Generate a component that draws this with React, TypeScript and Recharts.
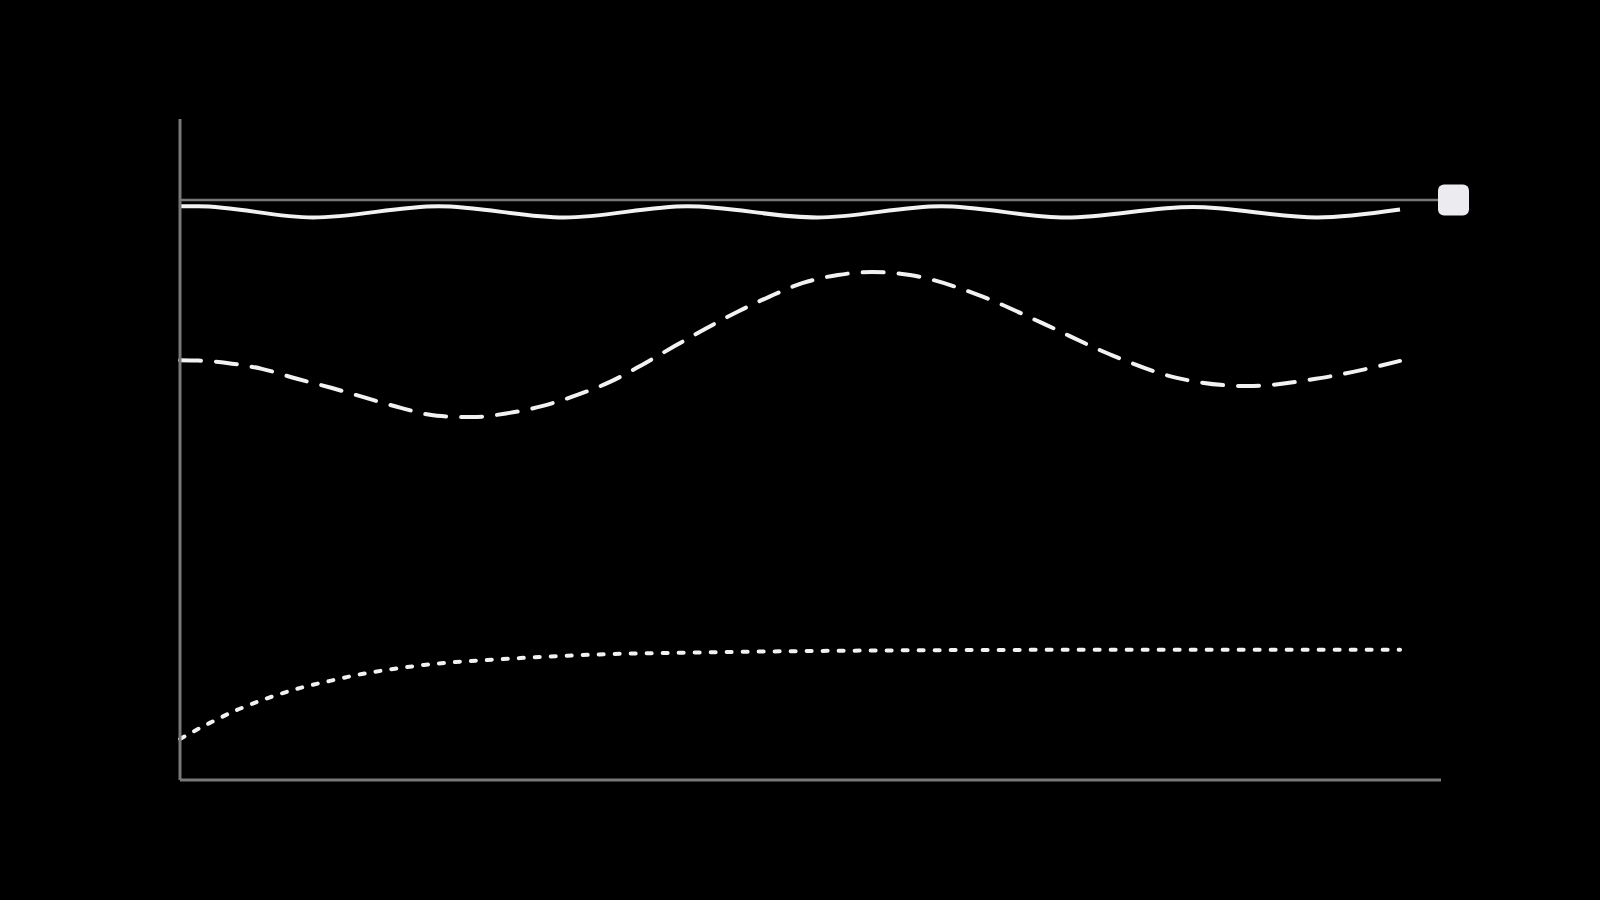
import React from "react";
import { LineChart, Line, XAxis, YAxis, ReferenceLine } from "recharts";

// x positions are in a 0..100 range across the span of the series
const X_MAX = 103.36;
const Y_MIN = 0;
const Y_MAX = 100;
const REF_VALUE = 87.75;

const solidX = [0, 1.5, 10.9, 21.2, 31.5, 41.6, 52.2, 62.4, 72.6, 83.0, 93.2, 100];
const solidY = [86.8, 86.8, 85.1, 86.8, 85.1, 86.8, 85.1, 86.8, 85.1, 86.7, 85.1, 86.3];

const dashedX = [
  0, 1.5, 3.85, 6.72, 9.59, 12.46, 15.25, 18.11, 21.07, 23.93, 26.89, 29.75, 32.62,
  35.33, 37.87, 40.41, 43.11, 45.66, 48.28, 51.07, 53.93, 56.72, 59.84, 65.41,
  70.82, 76.15, 81.8, 87.54, 93.44, 100,
];
const dashedY = [
  63.5, 63.45, 63.1, 62.2, 60.7, 59.3, 57.8, 56.3, 55.1, 54.9, 55.5, 56.6, 58.3, 60.3,
  62.8, 65.5, 68.3, 70.8, 73.1, 75.2, 76.4, 76.85, 76.4, 73.4, 69.0, 64.45,
  60.8, 59.6, 60.8, 63.4,
];

const dottedX = [
  0, 2.4, 4.8, 7.2, 9.8, 12.3, 14.8, 17.5, 20.0, 22.6, 25.2, 27.9, 34.4, 42.6,
  50.8, 63.1, 75.4, 87.7, 100,
];
const dottedY = [
  6.2, 8.6, 10.7, 12.4, 13.9, 15.0, 16.0, 16.8, 17.4, 17.85, 18.15, 18.45, 19.0,
  19.3, 19.5, 19.65, 19.7, 19.7, 19.7,
];

const toRows = (xs: number[], ys: number[]) => xs.map((x, i) => ({ x, y: ys[i] }));

const solidData = toRows(solidX, solidY);
const dashedData = toRows(dashedX, dashedY);
const dottedData = toRows(dottedX, dottedY);

const AXIS = "#787878";
const LINE = "#f2f2f2";

const SquareLabel = (props: any) => {
  const vb = props.viewBox || {};
  const size = 31;
  const cx = (vb.x ?? 0) + (vb.width ?? 0) + 12.5;
  const cy = vb.y ?? 0;
  return (
    <rect
      x={cx - size / 2}
      y={cy - size / 2}
      width={size}
      height={size}
      rx={6}
      ry={6}
      fill="#ececf0"
    />
  );
};

export default function App() {
  return (
    <div
      style={{
        position: "fixed",
        left: 0,
        top: 0,
        width: 1600,
        height: 900,
        background: "#000",
      }}
    >
      <LineChart
        width={1600}
        height={900}
        margin={{ top: 119, right: 159, bottom: 119, left: 179 }}
      >
        <XAxis
          type="number"
          dataKey="x"
          domain={[0, X_MAX]}
          tick={false}
          tickLine={false}
          height={1}
          axisLine={{ stroke: AXIS, strokeWidth: 3 }}
        />
        <YAxis
          type="number"
          domain={[Y_MIN, Y_MAX]}
          tick={false}
          tickLine={false}
          width={1}
          axisLine={{ stroke: AXIS, strokeWidth: 3 }}
        />
        <ReferenceLine
          y={REF_VALUE}
          stroke={AXIS}
          strokeWidth={2.5}
          label={(p: any) => <SquareLabel {...p} />}
        />
        <Line
          data={solidData}
          dataKey="y"
          type="monotone"
          stroke={LINE}
          strokeWidth={4}
          dot={false}
          activeDot={false}
          isAnimationActive={false}
        />
        <Line
          data={dashedData}
          dataKey="y"
          type="monotone"
          stroke={LINE}
          strokeWidth={4}
          strokeDasharray="21 15"
          strokeLinecap="round"
          dot={false}
          activeDot={false}
          isAnimationActive={false}
        />
        <Line
          data={dottedData}
          dataKey="y"
          type="monotone"
          stroke={LINE}
          strokeWidth={4}
          strokeDasharray="5 11"
          strokeLinecap="round"
          dot={false}
          activeDot={false}
          isAnimationActive={false}
        />
      </LineChart>
    </div>
  );
}
